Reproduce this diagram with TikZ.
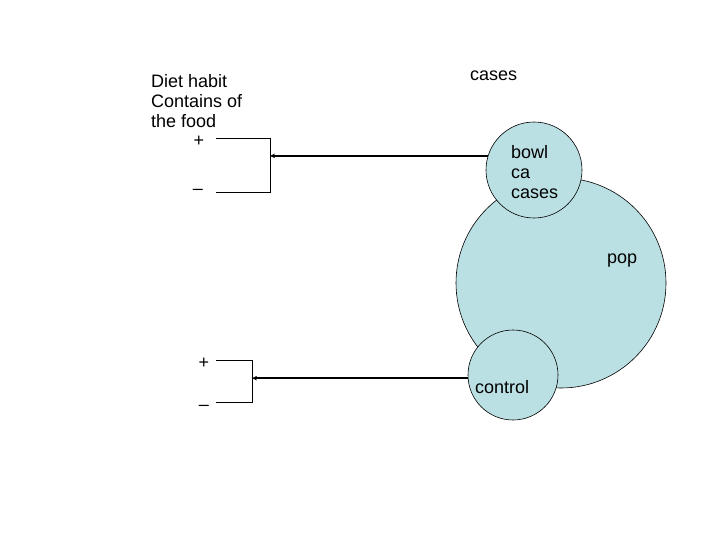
\documentclass[tikz,border=0pt]{standalone}
\usepackage{fontspec}
\setmainfont{Liberation Sans}
\usetikzlibrary{arrows.meta}
\definecolor{blob}{HTML}{BBE0E3}
\begin{document}
\begin{tikzpicture}[x=1pt,y=-1pt,
  txt/.style={inner sep=0pt,font=\fontsize{18}{20}\selectfont},
  bubble/.style={circle,draw=black,line width=0.6pt,fill=blob,inner sep=0pt},
  bracket/.style={draw=black,line width=0.8pt},
  link/.style={draw=black,line width=1.6pt,-{Stealth[length=5pt,width=4.5pt]}}]
\useasboundingbox (0,0) rectangle (720,540);
% circles
\node[bubble,minimum size=210pt] (pop) at (561,283) {};
\node[bubble,minimum size=96pt] (bowl) at (534,170) {};
\node[bubble,minimum size=90pt] (ctrl) at (513,375) {};
% texts
\node[txt,anchor=base west] (l1) at (151,88) {Diet habit};
\node[txt,anchor=base west] (l2) at (151,108) {Contains of};
\node[txt,anchor=base west] (l3) at (151,128) {the food};
\node[txt] (p1) at (199,141) {+};
\node[txt] (m1) at (198,192) {–};
\node[txt] (p2) at (204,363) {+};
\node[txt] (m2) at (204,408) {–};
\node[txt,anchor=base west] (cs) at (470,81) {cases};
\node[txt,anchor=base west] (b1) at (511,159) {bowl};
\node[txt,anchor=base west] (b2) at (511,179) {ca};
\node[txt,anchor=base west] (b3) at (511,199) {cases};
\node[txt,anchor=base west] (pp) at (607,263) {pop};
\node[txt,anchor=base west] (ct) at (475,393) {control};
% brackets
\coordinate (t1) at (216,138);
\coordinate (t2) at (270,138);
\coordinate (t3) at (270,192);
\coordinate (t4) at (216,192);
\draw[bracket] (t1) -- (t2) -- (t3) -- (t4);
\coordinate (u1) at (216,360);
\coordinate (u2) at (252,360);
\coordinate (u3) at (252,402);
\coordinate (u4) at (216,402);
\draw[bracket] (u1) -- (u2) -- (u3) -- (u4);
% connectors
\draw[link] (bowl.163) -- (bowl.163 -| t2);
\draw[link] (ctrl.184) -- (ctrl.184 -| u2);
\end{tikzpicture}
\end{document}
